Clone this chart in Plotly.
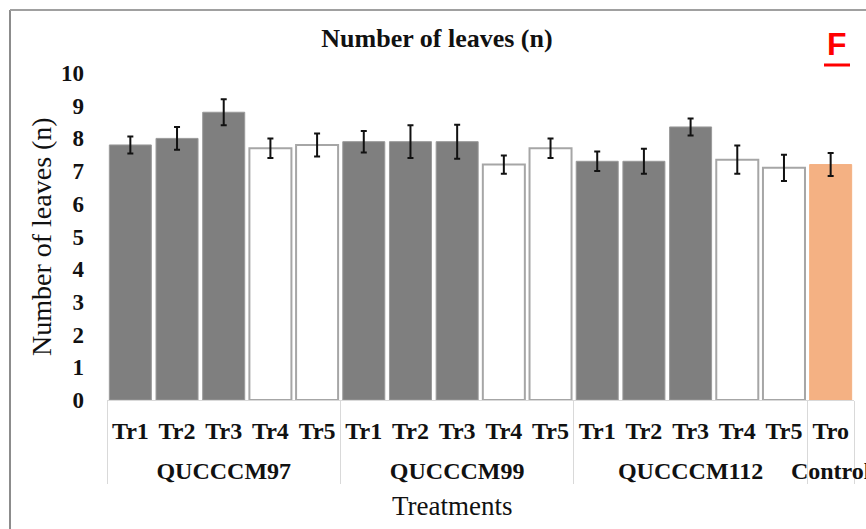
import plotly.graph_objects as go

# ---- data ----
groups = ["QUCCCM97"] * 5 + ["QUCCCM99"] * 5 + ["QUCCCM112"] * 5 + ["Control"]
treatments = ["Tr1", "Tr2", "Tr3", "Tr4", "Tr5"] * 3 + ["Tro"]
leaves_mean = [7.8, 8.0, 8.8, 7.7, 7.8,
               7.9, 7.9, 7.9, 7.2, 7.7,
               7.3, 7.3, 8.35, 7.35, 7.1,
               7.2]
leaves_err = [0.26, 0.35, 0.4, 0.3, 0.35,
              0.33, 0.5, 0.52, 0.28, 0.3,
              0.3, 0.38, 0.26, 0.43, 0.4,
              0.35]
y_ticks = list(range(0, 11))

# ---- styling ----
W, H = 866, 529
ML, MR, MT, MB = 107, 12, 73, 129
PW, PH = W - ML - MR, H - MT - MB
TICK_SIZE = 24


def px2x(px):
    return (px - ML) / PW


def px2y(py):
    return 1 - (py - MT) / PH


fill_map = {"Tr1": "#7f7f7f", "Tr2": "#7f7f7f", "Tr3": "#7f7f7f",
            "Tr4": "#ffffff", "Tr5": "#ffffff", "Tro": "#f4b183"}
line_map = {"Tr1": "#9a9a9a", "Tr2": "#9a9a9a", "Tr3": "#9a9a9a",
            "Tr4": "#a6a6a6", "Tr5": "#a6a6a6", "Tro": "#f4b183"}
lw_map = {"Tr1": 1, "Tr2": 1, "Tr3": 1, "Tr4": 2, "Tr5": 2, "Tro": 1}

serif = "Liberation Serif, Times New Roman, serif"

# second-level labels: pushed one line lower, then nudged up a little
group_labels = ["\u00a0<br><sup><span style='font-size:%dpx'>%s</span></sup>" % (TICK_SIZE, g)
                for g in groups]

fig = go.Figure(go.Bar(
    x=[group_labels, treatments],
    y=leaves_mean,
    marker=dict(color=[fill_map[t] for t in treatments],
                line=dict(color=[line_map[t] for t in treatments],
                          width=[lw_map[t] for t in treatments])),
    error_y=dict(type="data", array=leaves_err, color="#111111",
                 thickness=2, width=3),
    showlegend=False,
))

fig.update_layout(
    width=W, height=H,
    margin=dict(l=ML, r=MR, t=MT, b=MB, pad=0, autoexpand=False),
    paper_bgcolor="white", plot_bgcolor="white",
    bargap=0.1,
    title=dict(text="<b>Number of leaves (n)</b>",
               font=dict(family=serif, size=26, color="#111111"),
               x=437 / W, xref="container", xanchor="center",
               y=1 - 38 / H, yref="container", yanchor="middle"),
    xaxis=dict(type="multicategory", automargin=False,
               tickfont=dict(family=serif, size=TICK_SIZE, color="#111111", weight=700),
               showline=True, linecolor="#d9d9d9", linewidth=1,
               showdividers=True, dividercolor="#d9d9d9", dividerwidth=1,
               ticks="", showgrid=False,
               ticklabelstandoff=9),
    yaxis=dict(range=[0, 10], tickvals=y_ticks, automargin=False,
               tickfont=dict(family=serif, size=23, color="#111111", weight=700),
               showgrid=False, zeroline=False, showline=False, ticks="",
               ticklabelstandoff=22),
    shapes=[
        dict(type="line", xref="paper", yref="paper",
             x0=px2x(10), x1=px2x(10), y0=px2y(10), y1=px2y(H + 5),
             line=dict(color="#8c8c8c", width=2)),
        dict(type="line", xref="paper", yref="paper",
             x0=px2x(10), x1=px2x(W + 5), y0=px2y(10), y1=px2y(10),
             line=dict(color="#a0a0a0", width=2)),
        dict(type="line", xref="paper", yref="paper",
             x0=px2x(824), x1=px2x(850), y0=px2y(65), y1=px2y(65),
             line=dict(color="#ff0000", width=3)),
    ],
    annotations=[
        dict(text="Number of leaves (n)", textangle=-90,
             x=px2x(42), y=px2y(237), xref="paper", yref="paper",
             xanchor="center", yanchor="middle", showarrow=False,
             font=dict(family=serif, size=28, color="#111111")),
        dict(text="Treatments",
             x=px2x(452), y=px2y(506), xref="paper", yref="paper",
             xanchor="center", yanchor="middle", showarrow=False,
             font=dict(family=serif, size=27, color="#111111")),
        dict(text="<b>F</b>",
             x=px2x(837), y=px2y(44), xref="paper", yref="paper",
             xanchor="center", yanchor="middle", showarrow=False,
             font=dict(family="Liberation Sans, Arial, sans-serif", size=32,
                       color="#ff0000")),
    ],
)

fig.write_html("out.html", config={"displayModeBar": False},
               post_script="document.body.style.margin='0';document.body.style.overflow='hidden';")
